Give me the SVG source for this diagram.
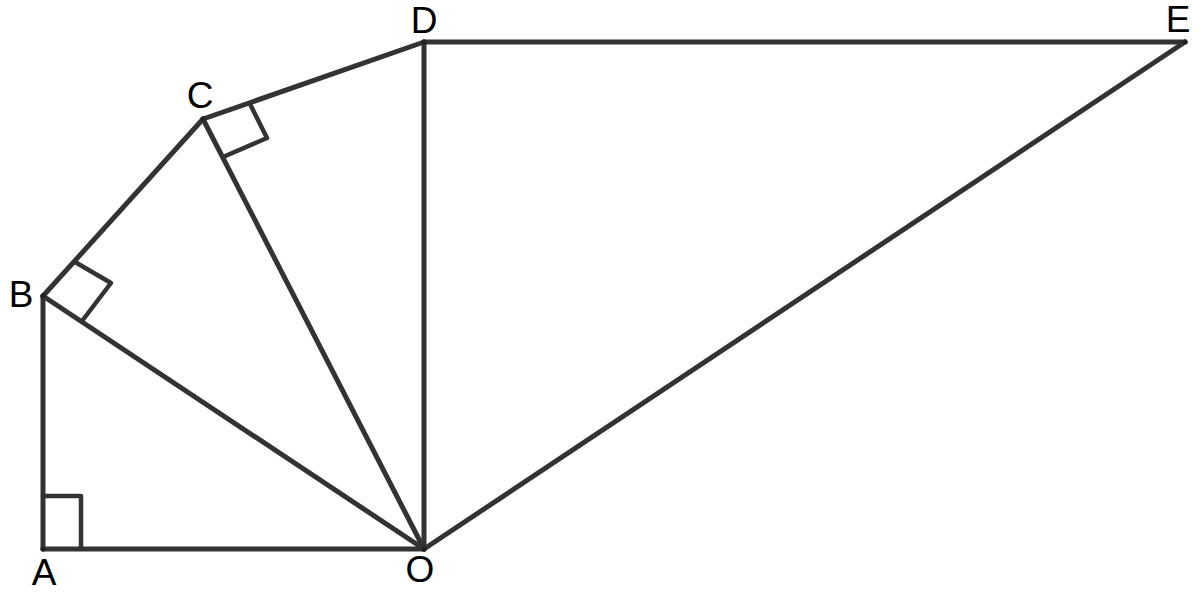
<svg xmlns="http://www.w3.org/2000/svg" width="1200" height="592" viewBox="0 0 1200 592">
<style>
.ln{stroke:#333;stroke-width:5;fill:none;stroke-linecap:round;stroke-linejoin:round}
.rm{stroke:#333;stroke-width:4.5;fill:none;stroke-linejoin:round}
.lb{font-family:"Liberation Sans",Arial,sans-serif;font-size:37px;fill:#000}
.pt{fill:#222}
</style>
<rect width="1200" height="592" fill="#fff"/>
<g id="connectors">
<line class="ln" x1="43" y1="549" x2="424" y2="549"/>
<line class="ln" x1="43" y1="549" x2="43" y2="296"/>
<line class="ln" x1="43" y1="296" x2="203" y2="119"/>
<line class="ln" x1="203" y1="119" x2="424" y2="42"/>
<line class="ln" x1="424" y1="42" x2="1185" y2="42"/>
<line class="ln" x1="43" y1="296" x2="424" y2="549"/>
<line class="ln" x1="203" y1="119" x2="424" y2="549"/>
<line class="ln" x1="424" y1="42" x2="424" y2="549"/>
<line class="ln" x1="1185" y1="42" x2="424" y2="549"/>
<polyline class="rm" points="43,496 81,496 81,549"/>
<polyline class="rm" points="75,262 111,283 82,321"/>
<polyline class="rm" points="249,102 267,138 223,157"/>
</g>
<g id="A"><circle class="pt" cx="43" cy="549" r="2.5"/><text class="lb" x="44" y="585" text-anchor="middle">A</text></g>
<g id="O"><circle class="pt" cx="424" cy="549" r="2.5"/><text class="lb" x="420" y="582" text-anchor="middle">O</text></g>
<g id="B"><circle class="pt" cx="43" cy="296" r="2.5"/><text class="lb" x="21" y="307" text-anchor="middle">B</text></g>
<g id="C"><circle class="pt" cx="203" cy="119" r="2.5"/><text class="lb" x="200" y="108" text-anchor="middle">C</text></g>
<g id="D"><circle class="pt" cx="424" cy="42" r="2.5"/><text class="lb" x="424" y="33" text-anchor="middle">D</text></g>
<g id="E"><circle class="pt" cx="1185" cy="42" r="2.5"/><text class="lb" x="1178" y="32" text-anchor="middle">E</text></g>
</svg>
